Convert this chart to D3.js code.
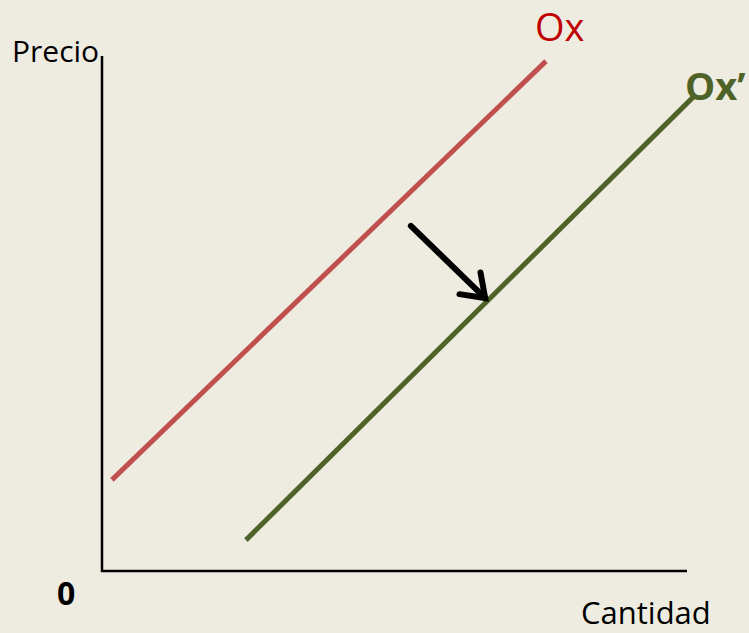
<!DOCTYPE html>
<html>
<head>
<meta charset="utf-8">
<script src="https://cdn.jsdelivr.net/npm/d3@7"></script>
<style>
  body { margin: 0; background: #EEECE1; }
  svg { display: block; font-family: "Open Sans", sans-serif; }
</style>
</head>
<body>
<svg></svg>
<script>
// supply curves (quantity, price) on a 0-100 scale
const supplyOx = [[1.7, 17.7], [75.9, 99.0]];
const supplyOx2 = [[24.6, 6.0], [101.4, 92.4]];
const shiftArrow = [[52.8, 67.0], [65.5, 53.0]];
const curveLabels = ["Ox", "Ox\u2019"];
const axisLabels = ["Precio", "Cantidad", "0"];

const width = 749;
const height = 633;

// Scales
const xScale = d3.scaleLinear()
    .domain([0, 100])
    .range([102, 687]);

const yScale = d3.scaleLinear()
    .domain([0, 100])
    .range([571, 56]);

const line = d3.line()
    .x(d => xScale(d[0]))
    .y(d => yScale(d[1]));

// Setup
const svg = d3.select("svg")
    .attr("width", width)
    .attr("height", height);

svg.append("rect")
    .attr("width", width)
    .attr("height", height)
    .attr("fill", "#EEECE1");

// Axes (plain lines, no ticks)
svg.append("path")
    .attr("d", line([[0, 100], [0, 0], [100, 0]]))
    .attr("fill", "none")
    .attr("stroke", "#000")
    .attr("stroke-width", 2.5);

// Curves
svg.append("path")
    .attr("d", line(supplyOx))
    .attr("stroke", "#C0504D")
    .attr("stroke-width", 5);

svg.append("path")
    .attr("d", line(supplyOx2))
    .attr("stroke", "#4F6228")
    .attr("stroke-width", 5);

// Shift arrow
const [a0, a1] = shiftArrow.map(d => [xScale(d[0]), yScale(d[1])]);
const ang = Math.atan2(a1[1] - a0[1], a1[0] - a0[0]);
const headLen = 26, spread = 0.62;
const wing = s => [a1[0] - headLen * Math.cos(ang + s), a1[1] - headLen * Math.sin(ang + s)];

svg.append("path")
    .attr("d", d3.line()([a0, a1]))
    .attr("stroke", "#000")
    .attr("stroke-width", 6)
    .attr("stroke-linecap", "round");

svg.append("path")
    .attr("d", d3.line()([wing(spread), a1, wing(-spread)]))
    .attr("fill", "none")
    .attr("stroke", "#000")
    .attr("stroke-width", 6)
    .attr("stroke-linecap", "round")
    .attr("stroke-linejoin", "miter");

// Labels
svg.append("text")
    .text(axisLabels[0])
    .attr("x", 12).attr("y", 62)
    .attr("font-size", 30);

svg.append("text")
    .text(axisLabels[1])
    .attr("x", 581).attr("y", 624)
    .attr("font-size", 31);

svg.append("text")
    .text(axisLabels[2])
    .attr("x", 57).attr("y", 605)
    .attr("font-size", 32)
    .attr("font-weight", "bold");

svg.append("text")
    .text(curveLabels[0])
    .attr("x", 535).attr("y", 41)
    .attr("font-size", 38)
    .attr("fill", "#C00000");

svg.append("text")
    .text(curveLabels[1])
    .attr("x", 685).attr("y", 100)
    .attr("font-size", 38)
    .attr("font-weight", "bold")
    .attr("fill", "#4F6228");
</script>
</body>
</html>
